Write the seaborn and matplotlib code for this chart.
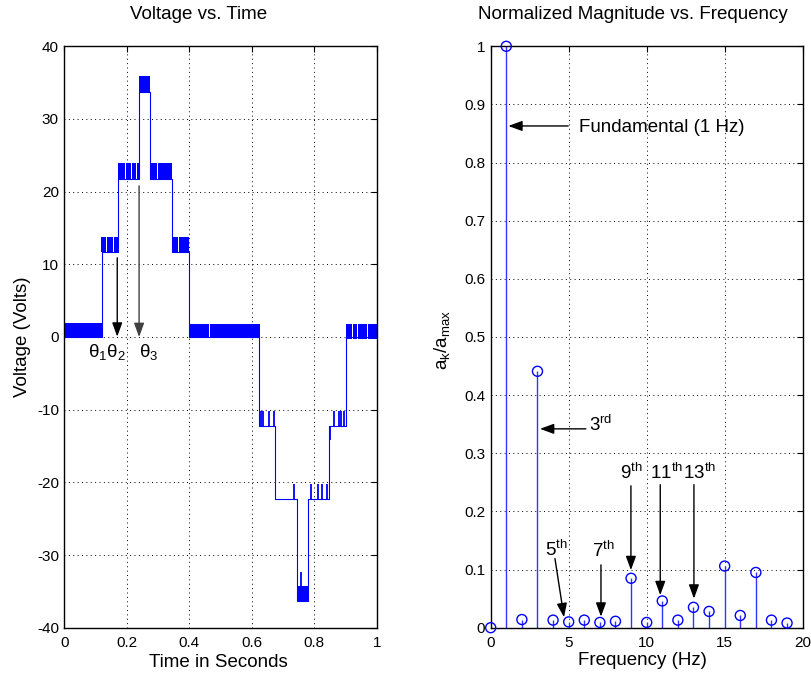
import numpy as np
import seaborn as sns
import matplotlib
matplotlib.use("Agg")
import matplotlib.pyplot as plt

sns.set_theme(style="white")
plt.rcParams['font.family'] = ['Liberation Sans', 'DejaVu Sans']
plt.rcParams['mathtext.fontset'] = 'custom'
plt.rcParams['mathtext.rm'] = 'Liberation Sans'
plt.rcParams['mathtext.it'] = 'Liberation Sans'
plt.rcParams['mathtext.bf'] = 'Liberation Sans:bold'

# --- left panel: stepped inverter voltage ---
step_t = [0.0, 0.121, 0.173, 0.239, 0.275, 0.344, 0.398, 0.624, 0.675, 0.745, 0.779, 0.848, 0.901, 1.0]
step_v = [0.0, 11.7, 21.7, 33.7, 21.7, 11.7, 0.0, -12.2, -22.3, -36.3, -22.3, -12.2, 0.0, 0.0]

# solid switching bands: start, end, low, high
band_t0 = [0.0, 0.117, 0.135, 0.158, 0.171, 0.198, 0.215, 0.231, 0.239, 0.276, 0.298,
           0.349, 0.366, 0.399, 0.466, 0.745, 0.901, 0.923, 0.939, 0.971]
band_t1 = [0.122, 0.132, 0.154, 0.173, 0.195, 0.212, 0.228, 0.241, 0.275, 0.296, 0.344,
           0.364, 0.399, 0.463, 0.625, 0.779, 0.920, 0.936, 0.968, 1.0]
band_lo = [0.0, 11.7, 11.7, 11.7, 21.7, 21.7, 21.7, 21.7, 33.7, 21.7, 21.7,
           11.7, 11.7, -0.1, -0.1, -36.3, -0.3, -0.3, -0.3, -0.3]
band_hi = [1.9, 13.8, 13.8, 13.8, 23.9, 23.9, 23.9, 23.9, 35.9, 23.9, 23.9,
           13.8, 13.8, 1.8, 1.8, -34.2, 1.8, 1.8, 1.8, 1.8]

# isolated switching pulses on the negative half
spike_t = [0.629, 0.637, 0.655, 0.672, 0.736, 0.756, 0.789, 0.812, 0.825, 0.841,
           0.851, 0.862, 0.878, 0.886, 0.894]
spike_lo = [-12.2, -12.2, -12.2, -12.2, -22.3, -34.2, -22.3, -22.3, -22.3, -22.3,
            -14.2, -12.2, -12.2, -12.2, -12.2]
spike_hi = [-10.2, -10.2, -10.2, -10.2, -20.2, -32.3, -20.2, -20.2, -20.2, -20.2,
            -12.2, -10.2, -10.2, -10.2, -10.2]

volt_ticks = [-40, -30, -20, -10, 0, 10, 20, 30, 40]
time_ticks = [0, 0.2, 0.4, 0.6, 0.8, 1.0]
time_labels = ['0', '0.2', '0.4', '0.6', '0.8', '1']

# --- right panel: normalized harmonic magnitudes ---
freq = list(range(20))
mag = [0.0, 1.0, 0.014, 0.441, 0.013, 0.010, 0.013, 0.009, 0.011, 0.085,
       0.009, 0.046, 0.013, 0.035, 0.028, 0.106, 0.021, 0.095, 0.013, 0.008]
mag_ticks = [0, 0.1, 0.2, 0.3, 0.4, 0.5, 0.6, 0.7, 0.8, 0.9, 1.0]
mag_labels = ['0', '0.1', '0.2', '0.3', '0.4', '0.5', '0.6', '0.7', '0.8', '0.9', '1']
freq_ticks = [0, 5, 10, 15, 20]

# harmonic call-outs: label, text x, text y, arrow tail, arrow tip
harm_labels = ['Fundamental (1 Hz)', '3$^{rd}$', '5$^{th}$', '7$^{th}$',
               '9$^{th}$', '11$^{th}$', '13$^{th}$']
harm_text_x = [5.68, 6.32, 3.48, 6.49, 8.29, 10.21, 12.33]
harm_text_y = [0.853, 0.338, 0.123, 0.122, 0.256, 0.256, 0.256]
harm_tail = [(4.97, 0.863), (6.1, 0.342), (4.12, 0.119), (7.07, 0.108),
             (8.99, 0.244), (10.87, 0.246), (13.03, 0.246)]
harm_tip = [(1.13, 0.863), (3.16, 0.342), (4.70, 0.018), (7.07, 0.019),
            (8.99, 0.099), (10.87, 0.056), (13.03, 0.050)]

big = 13.5
small = 11
arrow_style = '-|>,head_length=0.6,head_width=0.22'

fig = plt.figure(figsize=(8.12, 6.75), dpi=100)
ax1 = fig.add_axes([0.0794, 0.0701, 0.3845, 0.8613])
ax2 = fig.add_axes([0.6043, 0.0701, 0.3842, 0.8613])

for ax in (ax1, ax2):
    ax.grid(True, linestyle=(0, (1, 3.5)), color='black', linewidth=0.7)
    ax.set_axisbelow(True)
    ax.tick_params(direction='in', length=4, width=0.8, top=True, right=True,
                   labelsize=small, colors='black')
    ax.tick_params(axis='x', pad=6)
    ax.tick_params(axis='y', pad=4)
    for s in ax.spines.values():
        s.set_color('black')
        s.set_linewidth(1.0)

# left: waveform
sns.lineplot(x=step_t, y=step_v, ax=ax1, drawstyle='steps-post', estimator=None,
             sort=False, color='blue', linewidth=0.8)
for t0, t1, lo, hi in zip(band_t0, band_t1, band_lo, band_hi):
    ax1.fill_between([t0, t1], [lo, lo], [hi, hi], color='blue', linewidth=0)
ax1.vlines(spike_t, spike_lo, spike_hi, color='blue', linewidth=1.3)

ax1.set_xlim(0, 1)
ax1.set_ylim(-40, 40)
ax1.set_xticks(time_ticks, time_labels)
ax1.set_yticks(volt_ticks, [str(v) for v in volt_ticks])

ax1.annotate('', xy=(0.169, 0.05), xytext=(0.169, 10.9),
             arrowprops=dict(arrowstyle=arrow_style, color='black', lw=1,
                             mutation_scale=14, shrinkA=0, shrinkB=0))
ax1.annotate('', xy=(0.239, 0.0), xytext=(0.239, 20.8),
             arrowprops=dict(arrowstyle=arrow_style, color='0.25', lw=1,
                             mutation_scale=14, shrinkA=0, shrinkB=0))
ax1.text(0.075, -2.7, 'θ$_1$θ$_2$', fontsize=big, color='black', va='baseline')
ax1.text(0.239, -2.7, 'θ$_3$', fontsize=big, color='black', va='baseline')

ax1.set_xlabel('Time in Seconds', fontsize=big, color='black')
ax1.xaxis.set_label_coords(0.492, -0.0607)
ax1.xaxis.label.set_va('center')
ax1.set_ylabel('Voltage (Volts)', fontsize=big, color='black')
ax1.yaxis.set_label_coords(-0.136, 0.5)
ax1.yaxis.label.set_va('center')

# right: stem plot
ax2.vlines(freq, 0, mag, color='#3333ff', linewidth=1.0)
sns.scatterplot(x=freq, y=mag, ax=ax2, marker='o', s=52, facecolors='none',
                edgecolor='blue', linewidth=1.0, clip_on=False, zorder=3)
ax2.set_xlim(0, 20)
ax2.set_ylim(0, 1)
ax2.set_xticks(freq_ticks, [str(f) for f in freq_ticks])
ax2.set_yticks(mag_ticks, mag_labels)

for lab, tx, ty, tail, tip in zip(harm_labels, harm_text_x, harm_text_y, harm_tail, harm_tip):
    ax2.annotate('', xy=tip, xytext=tail,
                 arrowprops=dict(arrowstyle=arrow_style, color='black', lw=1,
                                 mutation_scale=14, shrinkA=0, shrinkB=0))
    ax2.text(tx, ty, lab, fontsize=big, color='black', va='baseline', ha='left')

ax2.set_xlabel('Frequency (Hz)', fontsize=big, color='black')
ax2.xaxis.set_label_coords(0.485, -0.0568)
ax2.xaxis.label.set_va('center')
ax2.set_ylabel('a$_k$/a$_{max}$', fontsize=big, color='black')
ax2.yaxis.set_label_coords(-0.156, 0.495)
ax2.yaxis.label.set_va('center')

fig.text(0.245, 0.978, 'Voltage vs. Time', fontsize=big, ha='center', va='center', color='black')
fig.text(0.779, 0.978, 'Normalized Magnitude vs. Frequency', fontsize=big, ha='center',
         va='center', color='black')

fig.savefig('out.png', dpi=100)
